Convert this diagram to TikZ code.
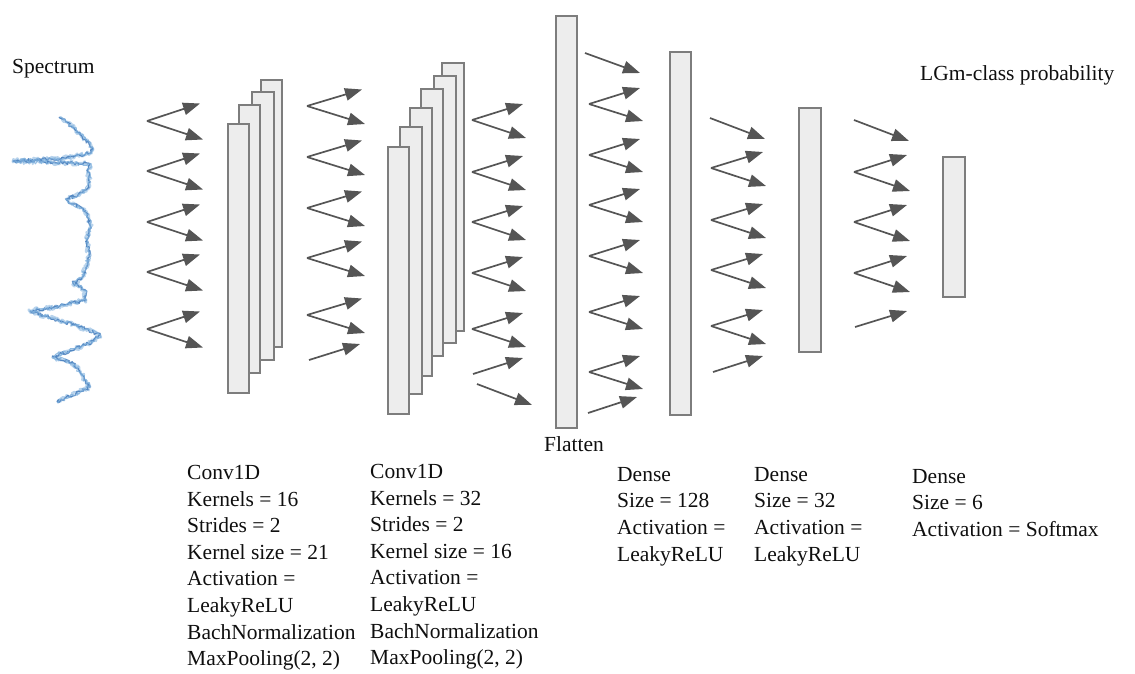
\documentclass[tikz,border=0pt]{standalone}
\usepackage{fontspec}
\setmainfont{Liberation Serif}
\usetikzlibrary{arrows.meta,decorations.pathmorphing}

\definecolor{arrowgray}{RGB}{85,85,85}
\definecolor{layerfill}{RGB}{237,237,237}
\definecolor{layerline}{RGB}{125,125,125}
\definecolor{speclight}{RGB}{125,175,220}
\definecolor{specdark}{RGB}{50,110,180}
\definecolor{inktext}{RGB}{15,15,15}

% a layer drawn as a tall grey bar, given by its corners
\newcommand\layerbox[5]{%
  \node[layer, minimum width={#4pt-#2pt}, minimum height={#5pt-#3pt}]
    (#1) at ({(#2+#4)/2},{(#3+#5)/2}) {};}

\begin{document}
\begin{tikzpicture}[x=1pt,y=-1pt,
  arr/.style={draw=arrowgray, line width=1.7pt,
    -{Triangle[length=17pt,width=12.5pt]}},
  layer/.style={draw=layerline, fill=layerfill, line width=1.5pt,
    inner sep=0pt, outer sep=0pt, rectangle},
  lbl/.style={font=\fontsize{21.5}{26.6}\selectfont, text=inktext,
    inner sep=0pt, align=left},
  pics/fork/.style n args={3}{code={
    \coordinate (-v) at (0,0);
    \coordinate (-u) at (#1,#2);
    \coordinate (-d) at (#1+3,#3);
    \draw[arr] (-v) -- (-u);
    \draw[arr] (-v) -- (-d);
  }},
]
\useasboundingbox (0,0) rectangle (1135,673);

% ---------- input spectrum ----------
\def\specpath{(60,117) -- (66,122) -- (74,128) -- (80,134) -- (86,140) -- (92,147)
  -- (91,153) -- (75,156) -- (60,159) -- (40,160) -- (13,161) -- (40,162)
  -- (70,163) -- (90,164) -- (88,172) -- (90,182) -- (86,190) -- (78,195)
  -- (66,199) -- (72,204) -- (82,208) -- (88,214) -- (90,225) -- (87,240)
  -- (89,255) -- (86,268) -- (82,278) -- (73,283) -- (85,290) -- (86,300)
  -- (60,306) -- (30,311) -- (50,318) -- (75,325) -- (100,335) -- (94,341)
  -- (75,349) -- (53,357) -- (73,363) -- (80,372) -- (85,380) -- (90,387)
  -- (77,393) -- (65,398) -- (57,402)}
\pgfmathsetseed{11}
\draw[speclight, line width=2.6pt, opacity=0.55, line join=round,
  decorate, decoration={random steps, segment length=1.4pt, amplitude=2.4pt}]
  \specpath;
\pgfmathsetseed{23}
\draw[specdark, line width=1.2pt, opacity=0.75, line join=round,
  decorate, decoration={random steps, segment length=1.5pt, amplitude=1.8pt}]
  \specpath;
\pgfmathsetseed{37}
\draw[speclight, line width=1pt, opacity=0.8, line join=round,
  decorate, decoration={random steps, segment length=1.6pt, amplitude=2.2pt}]
  \specpath;

\node[lbl, anchor=base west] (spec) at (12,73) {Spectrum};

% ---------- input -> conv 1 ----------
\foreach \i/\y in {1/121,2/171,3/222,4/272,5/329}
  \pic (fa\i) at (147,\y) {fork={53}{-17.5}{18.5}};

% conv 1 feature maps (back to front)
\layerbox{c1d}{261}{80}{282}{347}
\layerbox{c1c}{252}{92}{274}{360}
\layerbox{c1b}{239}{105}{260}{373}
\layerbox{c1a}{228}{124}{249}{393}

% ---------- conv 1 -> conv 2 ----------
\foreach \i/\y in {1/106,2/157,3/208,4/258,5/315}
  \pic (fb\i) at (307,\y) {fork={55}{-16.5}{18}};
\coordinate (sb1) at (309,360); \coordinate (tb1) at (360,344);
\draw[arr] (sb1) -- (tb1);

% conv 2 feature maps (back to front)
\layerbox{c2f}{442}{63}{464}{331}
\layerbox{c2e}{434}{76}{456}{343}
\layerbox{c2d}{421}{89}{443}{356}
\layerbox{c2c}{410}{108}{432}{376}
\layerbox{c2b}{400}{127}{422}{394}
\layerbox{c2a}{388}{147}{409}{414}

% ---------- conv 2 -> flatten ----------
\foreach \i/\y in {1/120,2/172,3/222,4/273,5/329}
  \pic (fc\i) at (472,\y) {fork={51}{-16}{18}};
\coordinate (sc1) at (473,374); \coordinate (tc1) at (523,358);
\coordinate (sc2) at (477,384); \coordinate (tc2) at (532,405);
\draw[arr] (sc1) -- (tc1);
\draw[arr] (sc2) -- (tc2);

\layerbox{flat}{556}{16}{577}{428}
\node[lbl, anchor=base] (flatlbl) at (574,451) {Flatten};

% ---------- flatten -> dense 128 ----------
\coordinate (sd0) at (585,53); \coordinate (td0) at (640,73);
\draw[arr] (sd0) -- (td0);
\foreach \i/\y in {1/104,2/155,3/205,4/256,5/312,6/372}
  \pic (fd\i) at (589,\y) {fork={51}{-16}{17}};
\coordinate (sd1) at (588,413); \coordinate (td1) at (637,397);
\draw[arr] (sd1) -- (td1);

\layerbox{d128}{670}{52}{691}{415}

% ---------- dense 128 -> dense 32 ----------
\coordinate (se0) at (710,118); \coordinate (te0) at (765,139);
\draw[arr] (se0) -- (te0);
\foreach \i/\y in {1/168,2/220,3/270,4/326}
  \pic (fe\i) at (711,\y) {fork={52}{-16}{18}};
\coordinate (se1) at (713,372); \coordinate (te1) at (763,356);
\draw[arr] (se1) -- (te1);

\layerbox{d32}{799}{108}{821}{352}

% ---------- dense 32 -> output ----------
\coordinate (sf0) at (854,120); \coordinate (tf0) at (909,141);
\draw[arr] (sf0) -- (tf0);
\foreach \i/\y in {1/172,2/222,3/273}
  \pic (ff\i) at (854,\y) {fork={53}{-17}{19}};
\coordinate (sf1) at (855,327); \coordinate (tf1) at (907,311);
\draw[arr] (sf1) -- (tf1);

\layerbox{out}{943}{157}{965}{297}
\node[lbl, anchor=base west] (outlbl) at (920,80) {LGm-class probability};

% ---------- layer descriptions ----------
\node[lbl, anchor=north west] (t1) at (187,465) {Conv1D\\Kernels = 16\\Strides = 2\\Kernel size = 21\\Activation =\\LeakyReLU\\BachNormalization\\MaxPooling(2, 2)};
\node[lbl, anchor=north west] (t2) at (370,464) {Conv1D\\Kernels = 32\\Strides = 2\\Kernel size = 16\\Activation =\\LeakyReLU\\BachNormalization\\MaxPooling(2, 2)};
\node[lbl, anchor=north west] (t3) at (617,467) {Dense\\Size = 128\\Activation =\\LeakyReLU};
\node[lbl, anchor=north west] (t4) at (754,467) {Dense\\Size = 32\\Activation =\\LeakyReLU};
\node[lbl, anchor=north west] (t5) at (912,469) {Dense\\Size = 6\\Activation = Softmax};
\end{tikzpicture}
\end{document}
